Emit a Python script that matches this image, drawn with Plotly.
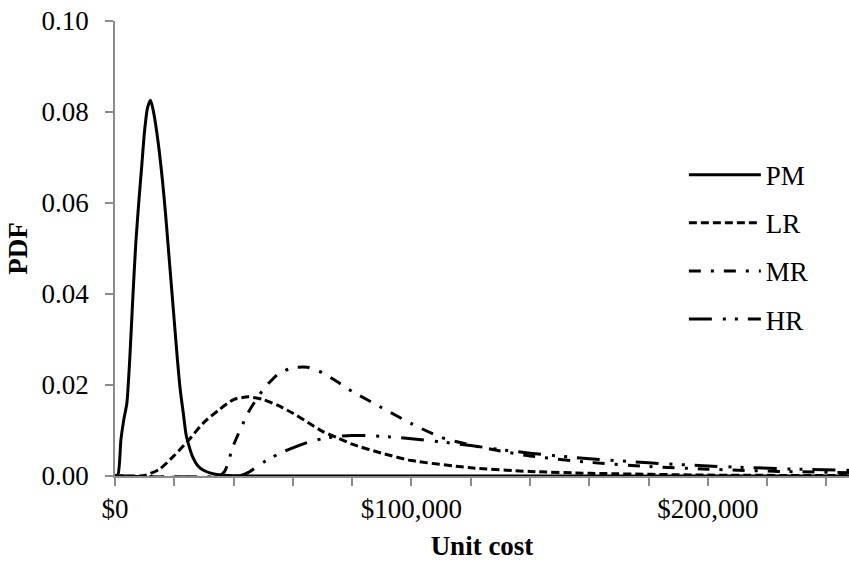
import plotly.graph_objects as go

# ---- data ----
pm_x = [0, 1000, 2000, 3000, 4000, 5000, 6000, 7000, 8000, 9000, 10000, 11000, 12000,
        13000, 14000, 15000, 16000, 17000, 18000, 19000, 20000, 21000, 22000, 23000,
        24000, 25000, 26000, 28000, 30000, 33000, 38000, 45000, 250000]
pm_y = [0, 0.0003, 0.008, 0.0125, 0.016, 0.026, 0.039, 0.051, 0.060, 0.068, 0.076, 0.081, 0.0826,
        0.080, 0.076, 0.071, 0.065, 0.058, 0.050, 0.042, 0.034, 0.026, 0.019, 0.014,
        0.009, 0.0065, 0.0045, 0.0022, 0.0012, 0.0005, 0.0001, 0, 0]

lr_x = [0, 5000, 10000, 15000, 20000, 25000, 30000, 35000, 40000, 45000, 50000, 55000,
        60000, 65000, 70000, 75000, 80000, 90000, 100000, 120000, 140000, 160000, 200000, 250000]
lr_y = [0, 0, 0.0001, 0.0015, 0.0045, 0.0080, 0.0118, 0.0145, 0.0168, 0.0174, 0.0168, 0.0155,
        0.0138, 0.0118, 0.0098, 0.0084, 0.0070, 0.0050, 0.0034, 0.0018, 0.0010, 0.0006, 0.0002, 0.0001]

mr_x = [0, 35000, 37000, 40000, 45000, 50000, 55000, 60000, 65000, 70000, 75000, 80000,
        90000, 100000, 110000, 120000, 130000, 140000, 160000, 180000, 200000, 225000, 250000]
mr_y = [0, 0, 0.001, 0.0068, 0.0140, 0.0190, 0.0224, 0.0238, 0.0239, 0.0227, 0.0207, 0.0186,
        0.0150, 0.0115, 0.0085, 0.0068, 0.0055, 0.0044, 0.0030, 0.0021, 0.0015, 0.0010, 0.0007]

hr_x = [0, 42000, 45000, 50000, 55000, 60000, 65000, 70000, 75000, 80000, 85000, 90000,
        100000, 110000, 120000, 130000, 140000, 160000, 180000, 200000, 225000, 250000]
hr_y = [0, 0, 0.0008, 0.0030, 0.0048, 0.0062, 0.0074, 0.0082, 0.0087, 0.0089, 0.0089, 0.0087,
        0.0082, 0.0075, 0.0067, 0.0058, 0.0050, 0.0038, 0.0029, 0.0022, 0.0016, 0.0012]

series = [
    ("PM", pm_x, pm_y, "solid"),
    ("LR", lr_x, lr_y, "8px,4px"),
    ("MR", mr_x, mr_y, "12px,10px,3px,10px"),
    ("HR", hr_x, hr_y, "23px,11px,3px,9px,3px,10px"),
]

FONT = "Liberation Serif, Times New Roman, serif"
FS = 27
AXIS_GREY = "#8c8c8c"

fig = go.Figure()
for name, xs, ys, dash in series:
    fig.add_trace(go.Scatter(
        x=xs, y=ys, name=name, mode="lines", legendgroup=name,
        line=dict(color="black", width=3, dash=dash, shape="spline", smoothing=0.6),
    ))

fig.update_layout(
    width=849, height=561,
    margin=dict(l=115, r=0, t=21, b=85),
    paper_bgcolor="white", plot_bgcolor="white",
    font=dict(family=FONT, size=FS, color="black"),
    showlegend=True,
    legend=dict(
        x=0.775, xref="paper", xanchor="left",
        y=0.715, yanchor="top",
        bgcolor="rgba(0,0,0,0)",
        itemwidth=72,
        tracegroupgap=10,
        traceorder="grouped",
        font=dict(family=FONT, size=FS, color="black"),
    ),
    xaxis=dict(
        range=[0, 247600],
        tickvals=[0, 100000, 200000],
        ticktext=["$0", "$100,000", "$200,000"],
        ticks="outside", ticklen=8, tickwidth=1.5, tickcolor=AXIS_GREY,
        minor=dict(dtick=20000, tick0=0, ticks="outside", ticklen=8, tickwidth=1.5, tickcolor=AXIS_GREY),
        showline=True, linecolor=AXIS_GREY, linewidth=1.5,
        showgrid=False, zeroline=False,
        title=dict(text="<b>Unit cost</b>", standoff=14, font=dict(family=FONT, size=FS)),
    ),
    yaxis=dict(
        range=[0, 0.1],
        dtick=0.02, tickformat=".2f",
        ticks="outside", ticklen=8, tickwidth=1.5, tickcolor=AXIS_GREY,
        showline=True, linecolor=AXIS_GREY, linewidth=1.5,
        showgrid=False, zeroline=False,
        ticklabelstandoff=11,
        title=dict(text="<b>PDF</b>", standoff=6, font=dict(family=FONT, size=FS)),
    ),
)

fig.write_html("out.html")
